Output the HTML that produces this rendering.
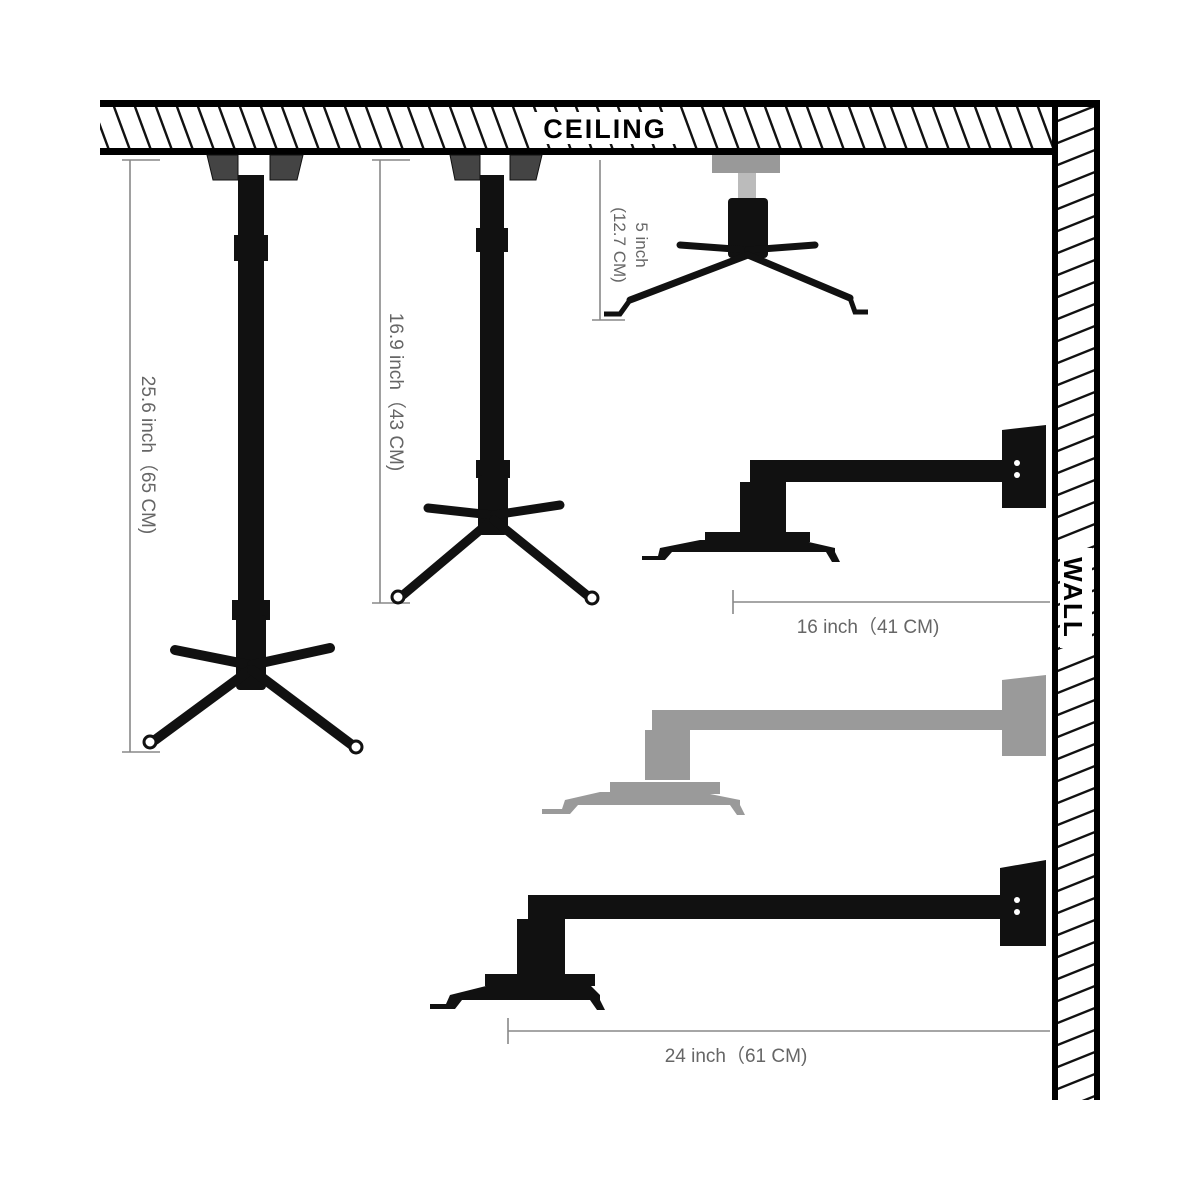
<!DOCTYPE html>
<html><head><meta charset="utf-8"><style>
html,body{margin:0;padding:0;background:#fff}
svg{display:block}
text{font-family:"Liberation Sans",sans-serif}
</style></head><body>
<svg width="1200" height="1200" viewBox="0 0 1200 1200" xmlns="http://www.w3.org/2000/svg">
<defs>
<pattern id="hc" x="100" y="104" width="21" height="46" patternUnits="userSpaceOnUse">
<line x1="-8" y1="0" x2="9" y2="46" stroke="#111" stroke-width="2.4"/>
<line x1="13" y1="0" x2="30" y2="46" stroke="#111" stroke-width="2.4"/>
</pattern>
<pattern id="hw" x="1055" y="104" width="40" height="22" patternUnits="userSpaceOnUse">
<line x1="0" y1="18" x2="40" y2="2" stroke="#111" stroke-width="2.4"/>
<line x1="0" y1="40" x2="40" y2="24" stroke="#111" stroke-width="2.4"/>
<line x1="0" y1="-4" x2="40" y2="-20" stroke="#111" stroke-width="2.4"/>
</pattern>
</defs>
<rect x="100" y="104" width="955" height="46" fill="url(#hc)"/>
<rect x="1055" y="104" width="40" height="996" fill="url(#hw)"/>
<rect x="100" y="100" width="1000" height="7" fill="#000"/>
<rect x="100" y="148" width="958" height="7" fill="#000"/>
<rect x="1052" y="100" width="6" height="1000" fill="#000"/>
<rect x="1094" y="100" width="6" height="1000" fill="#000"/>
<rect x="532" y="112" width="146" height="32" fill="#fff"/>
<text x="605" y="138" font-size="27" font-weight="bold" text-anchor="middle" letter-spacing="2">CEILING</text>
<rect x="1060" y="548" width="32" height="100" fill="#fff"/>
<text transform="translate(1064,598) rotate(90)" font-size="26" font-weight="bold" text-anchor="middle" letter-spacing="2">WALL</text>

<g stroke="#888" stroke-width="1.6" fill="none">
<line x1="130" y1="160" x2="130" y2="752"/><line x1="122" y1="160" x2="160" y2="160"/><line x1="122" y1="752" x2="160" y2="752"/>
<line x1="380" y1="160" x2="380" y2="603"/><line x1="372" y1="160" x2="410" y2="160"/><line x1="372" y1="603" x2="410" y2="603"/>
<line x1="600" y1="160" x2="600" y2="320"/><line x1="592" y1="320" x2="625" y2="320"/>
<line x1="733" y1="602" x2="1050" y2="602"/><line x1="733" y1="590" x2="733" y2="614"/>
<line x1="508" y1="1031" x2="1050" y2="1031"/><line x1="508" y1="1018" x2="508" y2="1044"/>
</g>
<g fill="#666" font-size="19">
<text transform="translate(142,455) rotate(90)" text-anchor="middle">25.6 inch（65 CM)</text>
<text transform="translate(390,392) rotate(90)" text-anchor="middle">16.9 inch（43 CM)</text>
<text transform="translate(636,245) rotate(90)" text-anchor="middle" font-size="17">5 inch</text>
<text transform="translate(614,245) rotate(90)" text-anchor="middle" font-size="17">(12.7 CM)</text>
<text x="868" y="633" text-anchor="middle">16 inch（41 CM)</text>
<text x="736" y="1062" text-anchor="middle">24 inch（61 CM)</text>
</g>

<g fill="#111" stroke="#111">
<path d="M207 155 H238 V180 H213 Z M270 155 H303 L297 180 H270 Z" fill="#444"/>
<rect x="238" y="175" width="26" height="445" stroke="none"/>
<rect x="234" y="235" width="34" height="26" stroke="none"/>
<rect x="232" y="600" width="38" height="20" stroke="none"/>
<rect x="236" y="615" width="30" height="75" rx="4" stroke="none"/>
<g stroke-width="10" stroke-linecap="round">
<line x1="250" y1="665" x2="175" y2="650"/><line x1="252" y1="665" x2="330" y2="648"/>
<line x1="250" y1="670" x2="155" y2="740"/><line x1="252" y1="670" x2="352" y2="745"/>
</g>
<circle cx="150" cy="742" r="6" fill="#fff" stroke-width="3"/><circle cx="356" cy="747" r="6" fill="#fff" stroke-width="3"/>
</g>
<g fill="#111" stroke="#111">
<path d="M450 155 H480 V180 H455 Z M510 155 H542 L536 180 H510 Z" fill="#444"/>
<rect x="480" y="175" width="24" height="300" stroke="none"/>
<rect x="476" y="228" width="32" height="24" stroke="none"/>
<rect x="476" y="460" width="34" height="18" stroke="none"/>
<rect x="478" y="475" width="30" height="60" rx="4" stroke="none"/>
<g stroke-width="9" stroke-linecap="round">
<line x1="492" y1="515" x2="428" y2="508"/><line x1="494" y1="515" x2="560" y2="505"/>
<line x1="492" y1="520" x2="403" y2="595"/><line x1="494" y1="520" x2="588" y2="596"/>
</g>
<circle cx="398" cy="597" r="6" fill="#fff" stroke-width="3"/><circle cx="592" cy="598" r="6" fill="#fff" stroke-width="3"/>
</g>
<g fill="#111" stroke="#111">
<rect x="712" y="155" width="68" height="18" fill="#999" stroke="none"/>
<rect x="738" y="173" width="18" height="25" fill="#bbb" stroke="none"/>
<rect x="728" y="198" width="40" height="60" rx="4" stroke="none"/>
<g stroke-width="7" stroke-linecap="round">
<line x1="748" y1="250" x2="680" y2="245"/><line x1="748" y1="250" x2="815" y2="245"/>
<line x1="748" y1="255" x2="630" y2="300"/><line x1="748" y1="255" x2="850" y2="298"/>
</g>
<path d="M630 300 L620 314 H604" fill="none" stroke-width="5"/><path d="M850 298 L855 312 H868" fill="none" stroke-width="5"/>
</g>
<g fill="#111">
<path d="M1002 430 L1046 425 V508 H1002 Z"/>
<rect x="750" y="460" width="260" height="22"/>
<rect x="740" y="482" width="46" height="50"/>
<path d="M660 548 L700 540 H800 L835 548 V552 L840 562 H832 L826 552 H672 L665 560 H642 V556 H658 Z"/>
<rect x="705" y="532" width="105" height="10"/>
<circle cx="1017" cy="463" r="3" fill="#fff"/><circle cx="1017" cy="475" r="3" fill="#fff"/>
</g>
<g fill="#9a9a9a">
<path d="M1002 680 L1046 675 V756 H1002 Z"/>
<rect x="652" y="710" width="355" height="20"/>
<rect x="645" y="730" width="45" height="50"/>
<path d="M565 800 L600 792 H700 L740 800 V805 L745 815 H737 L730 805 H578 L570 814 H542 V809 H562 Z"/>
<rect x="610" y="782" width="110" height="12"/>
</g>
<g fill="#111">
<path d="M1000 868 L1046 860 V946 H1000 Z"/>
<rect x="528" y="895" width="478" height="24"/>
<rect x="517" y="919" width="48" height="55"/>
<path d="M450 995 L490 985 H590 L600 995 V1000 L605 1010 H597 L590 1000 H462 L455 1009 H430 V1004 H446 Z"/>
<rect x="485" y="974" width="110" height="12"/>
<circle cx="1017" cy="900" r="3" fill="#fff"/><circle cx="1017" cy="912" r="3" fill="#fff"/>
</g>
</svg>
</body></html>
